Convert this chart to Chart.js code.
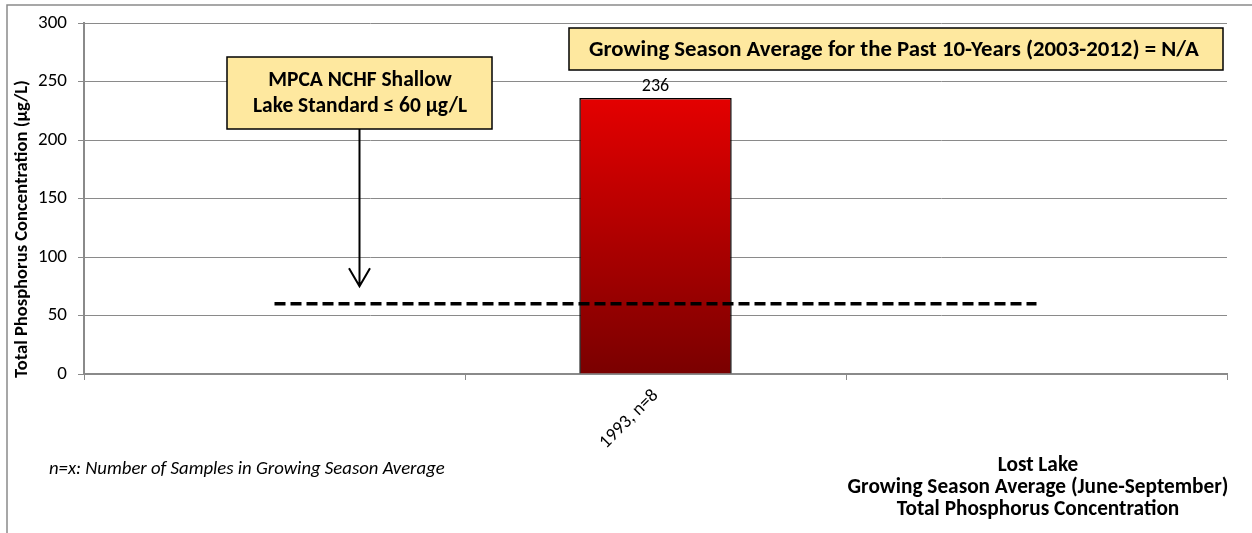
<!DOCTYPE html>
<html>
<head>
<meta charset="utf-8">
<script src="https://cdn.jsdelivr.net/npm/chart.js@4/dist/chart.umd.min.js"></script>
<style>
html,body{margin:0;padding:0;background:#fff;}
#wrap{width:1252px;height:533px;position:relative;}
</style>
</head>
<body>
<div id="wrap"><canvas id="c" width="1252" height="533"></canvas></div>
<script>
const categories = ["", "1993, n=8", ""];
const tpValues = [null, 236, null];
const standardValues = [60, 60, 60];
const yMin = 0, yMax = 300, yStep = 50;
const yAxisTitle = "Total Phosphorus Concentration (\u00b5g/L)";
const standardNote = ["MPCA NCHF Shallow", "Lake Standard \u2264 60 \u00b5g/L"];
const arrowTipValue = 75;
const avgNote = "Growing Season Average for the Past 10-Years (2003-2012) = N/A";
const sampleNote = "n=x: Number of Samples in Growing Season Average";
const titleLines = ["Lost Lake", "Growing Season Average (June-September)", "Total Phosphorus Concentration"];

const FONT = "Carlito, Lato, sans-serif";

function fitFont(ctx, text, style, target) {
  ctx.font = style + " 20px " + FONT;
  const w = ctx.measureText(text).width;
  const size = 20 * target / w;
  return style + " " + size.toFixed(2) + "px " + FONT;
}

const decor = {
  id: 'decor',
  beforeDraw(chart) {
    const ctx = chart.ctx;
    ctx.save();
    ctx.fillStyle = '#fff';
    ctx.fillRect(0, 0, chart.width, chart.height);
    ctx.strokeStyle = '#8a8a8a';
    ctx.lineWidth = 1.5;
    ctx.beginPath();
    ctx.moveTo(7, 533);
    ctx.lineTo(7, 5);
    ctx.lineTo(1252, 5);
    ctx.stroke();
    ctx.restore();
  },
  afterDraw(chart) {
    const ctx = chart.ctx;
    const ys = chart.scales.y;
    ctx.save();
    ctx.textBaseline = 'middle';
    // data label
    const meta = chart.getDatasetMeta(0);
    meta.data.forEach((el, i) => {
      if (tpValues[i] == null) return;
      ctx.fillStyle = '#000';
      ctx.font = "18px " + FONT;
      ctx.textAlign = 'center';
      ctx.fillText(String(tpValues[i]), el.x, el.y - 11);
    });
    // y axis title
    ctx.save();
    ctx.translate(21, 229);
    ctx.rotate(-Math.PI / 2);
    ctx.font = fitFont(ctx, yAxisTitle, "bold", 298);
    ctx.textAlign = 'center';
    ctx.fillStyle = '#000';
    ctx.fillText(yAxisTitle, 0, 1);
    ctx.restore();
    // arrow
    const tipY = ys.getPixelForValue(arrowTipValue);
    ctx.strokeStyle = '#000';
    ctx.lineWidth = 2;
    ctx.beginPath();
    ctx.moveTo(359.5, 129);
    ctx.lineTo(359.5, tipY);
    ctx.moveTo(349, tipY - 18);
    ctx.lineTo(359.5, tipY);
    ctx.lineTo(370, tipY - 18);
    ctx.stroke();
    // box 1
    ctx.fillStyle = '#fee89f';
    ctx.fillRect(227, 57, 265, 72);
    ctx.strokeStyle = '#000';
    ctx.lineWidth = 1.5;
    ctx.strokeRect(227, 57, 265, 72);
    ctx.fillStyle = '#000';
    ctx.font = fitFont(ctx, standardNote[1], "bold", 214);
    ctx.textAlign = 'center';
    ctx.fillText(standardNote[0], 360, 81);
    ctx.fillText(standardNote[1], 360, 107);
    // box 2
    ctx.fillStyle = '#fee89f';
    ctx.fillRect(569, 28, 654, 42);
    ctx.strokeRect(569, 28, 654, 42);
    ctx.fillStyle = '#000';
    ctx.font = fitFont(ctx, avgNote, "bold", 610);
    ctx.textAlign = 'left';
    ctx.fillText(avgNote, 589, 50);
    // bottom notes
    ctx.font = fitFont(ctx, sampleNote, "italic", 396);
    ctx.fillText(sampleNote, 49, 469);
    ctx.font = fitFont(ctx, titleLines[1], "bold", 381);
    ctx.textAlign = 'center';
    ctx.fillText(titleLines[0], 1038, 466);
    ctx.fillText(titleLines[1], 1038, 488);
    ctx.fillText(titleLines[2], 1038, 510);
    ctx.restore();
  }
};

const ctx = document.getElementById('c').getContext('2d');
new Chart(ctx, {
  data: {
    labels: categories,
    datasets: [
      {
        type: 'bar',
        label: 'TP',
        data: tpValues,
        backgroundColor: (c) => {
          const ch = c.chart;
          const area = ch.chartArea;
          if (!area) return '#c00000';
          const ys = ch.scales.y;
          const top = ys.getPixelForValue(236);
          const g = ch.ctx.createLinearGradient(0, top, 0, area.bottom);
          g.addColorStop(0, '#e40000');
          g.addColorStop(1, '#7a0000');
          return g;
        },
        borderColor: '#000',
        borderWidth: 1.5,
        barPercentage: 0.4,
        categoryPercentage: 1.0,
        order: 2
      },
      {
        type: 'line',
        label: 'Standard',
        data: standardValues,
        borderColor: '#000',
        borderWidth: 3.5,
        borderDash: [11, 5],
        pointRadius: 0,
        fill: false,
        order: 1
      }
    ]
  },
  options: {
    responsive: false,
    animation: false,
    devicePixelRatio: 1,
    layout: { padding: { top: 23, right: 25, left: 0, bottom: 0 } },
    plugins: { legend: { display: false }, tooltip: { enabled: false } },
    scales: {
      x: {
        type: 'category',
        offset: true,
        grid: { offset: true, drawOnChartArea: false, drawTicks: true, tickLength: 6, color: '#8a8a8a' },
        border: { color: '#8a8a8a', width: 2 },
        ticks: { minRotation: 45, maxRotation: 45, autoSkip: false, padding: 5, color: '#000', font: { size: 18.5, family: FONT } },
        afterFit: (s) => { s.height = 159; }
      },
      y: {
        min: yMin, max: yMax,
        ticks: { stepSize: yStep, padding: 11, color: '#000', font: { size: 19, family: FONT } },
        grid: { color: '#8a8a8a', lineWidth: 1, tickLength: 6 },
        border: { color: '#8a8a8a', width: 2 },
        afterFit: (s) => { s.width = 84; }
      }
    }
  },
  plugins: [decor]
});
</script>
</body>
</html>
